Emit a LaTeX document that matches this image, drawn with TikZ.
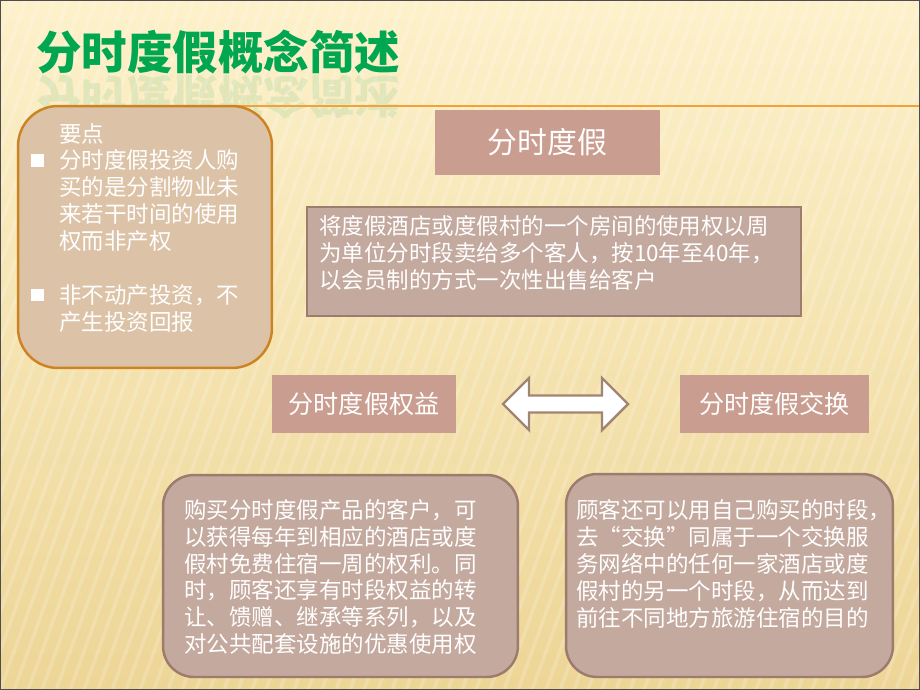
\documentclass[tikz,border=0pt]{standalone}
\usepackage{fontspec}
\setmainfont{Noto Sans CJK SC}
\usetikzlibrary{positioning}

\definecolor{bgtop}{HTML}{FDF1CB}
\definecolor{bgbot}{HTML}{EDD596}
\definecolor{titlegreen}{HTML}{00A650}
\definecolor{ruleorange}{HTML}{F2A238}
\definecolor{keyfill}{HTML}{DCC3A8}
\definecolor{keyline}{HTML}{CD8322}
\definecolor{tagfill}{HTML}{C99D8F}
\definecolor{notefill}{HTML}{C4A99F}
\definecolor{noteline}{HTML}{9D7C6E}
\definecolor{swapline}{HTML}{A08573}
\definecolor{framegray}{HTML}{4D4D4D}

\newcommand{\sqmark}{\makebox[0.56cm][l]{\rule[0.04cm]{0.25cm}{0.25cm}}}
\newcommand{\sqgap}{\hspace*{0.56cm}}

\begin{document}
\begin{tikzpicture}[x=0.02cm, y=-0.02cm]
    % Define the styles
    \tikzset{
        tagbox/.style = {fill=tagfill, text=white, inner sep=0pt, font=\fontsize{14.3}{17}\selectfont},
        notebox/.style = {draw=noteline, fill=notefill, line width=1.4pt, inner sep=0pt},
        bodytext/.style = {text=white, inner sep=0pt, align=left, font=\fontsize{12.8}{15.3}\selectfont},
        swaparrow/.style = {draw=swapline, fill=white, line width=1.4pt, line join=miter},
    }

    % Background
    \shade[top color=bgtop, bottom color=bgbot] (0,0) rectangle (920,690);
    \begin{scope}
        \clip (0,0) rectangle (920,690);
        \foreach \i in {-20,...,70}
            \draw[white, opacity=0.18, line width=2pt] (\i*14,690) -- (\i*14+250,0);
    \end{scope}
    \useasboundingbox (0,0) rectangle (920,690);

    % Title and its reflection
    \node[text=titlegreen, inner sep=0pt, anchor=west, font=\fontsize{25.9}{30}\selectfont\bfseries] (title) at (36,52) {分时度假概念简述};
    \node[text=titlegreen, opacity=0.1, inner sep=0pt, anchor=west, yscale=-1, transform shape, font=\fontsize{25.9}{30}\selectfont\bfseries] (titlemirror) at (36,97) {分时度假概念简述};
    \draw[ruleorange, line width=1.6pt] (200,106) -- (920,106);

    % Key points box
    \node[draw=keyline, fill=keyfill, line width=1.4pt, rounded corners=0.8cm, minimum width=5.08cm, minimum height=5.24cm] (keypts) at (145,237) {};
    \node[bodytext, below right=0.36cm and 0.28cm of keypts.north west] (keytext) {\sqgap 要点\\
        \sqmark 分时度假投资人购\\ \sqgap 买的是分割物业未\\ \sqgap 来若干时间的使用\\ \sqgap 权而非产权\\[15.3pt]
        \sqmark 非不动产投资，不\\ \sqgap 产生投资回报};

    % Definition
    \node[tagbox, minimum width=4.5cm, minimum height=1.3cm, font=\fontsize{17}{20}\selectfont] (concept) at (547.5,142.5) {分时度假};
    \node[notebox, minimum width=9.88cm, minimum height=2.18cm] (define) at (554,261.5) {};
    \node[bodytext, below right=0.19cm and 0.26cm of define.north west] (definetext) {将度假酒店或度假村的一个房间的使用权以周\\ 为单位分时段卖给多个客人，按10年至40年，\\ 以会员制的方式一次性出售给客户};

    % Rights and exchange
    \node[tagbox, minimum width=3.68cm, minimum height=1.16cm] (rights) at (364,404) {分时度假权益};
    \node[tagbox, minimum width=3.78cm, minimum height=1.16cm] (swap) at (774.5,404) {分时度假交换};
    \coordinate (swapmid) at (565.5,404);
    \draw[swaparrow, shift={(swapmid)}] (-62.5,0) -- (-36.5,-26) -- (-36.5,-8.5) -- (36.5,-8.5) -- (36.5,-26)
        -- (62.5,0) -- (36.5,26) -- (36.5,8.5) -- (-36.5,8.5) -- (-36.5,26) -- cycle;

    % Notes
    \node[notebox, rounded corners=0.62cm, minimum width=7.1cm, minimum height=4.04cm] (rightsnote) at (340.5,576) {};
    \node[bodytext, below right=0.5cm and 0.44cm of rightsnote.north west] (rightstext) {购买分时度假产品的客户，可\\ 以获得每年到相应的酒店或度\\ 假村免费住宿一周的权利。同\\ 时，顾客还享有时段权益的转\\ 让、馈赠、继承等系列，以及\\ 对公共配套设施的优惠使用权};
    \node[notebox, rounded corners=0.62cm, minimum width=6.54cm, minimum height=4.06cm] (swapnote) at (729.5,575.5) {};
    \node[bodytext, below right=0.53cm and 0.22cm of swapnote.north west] (swaptext) {顾客还可以用自己购买的时段，\\ 去“交换”同属于一个交换服\\ 务网络中的任何一家酒店或度\\ 假村的另一个时段，从而达到\\ 前往不同地方旅游住宿的目的};

    % Frame
    \draw[framegray, line width=1.2pt] (0,0) rectangle (920,690);
\end{tikzpicture}
\end{document}
